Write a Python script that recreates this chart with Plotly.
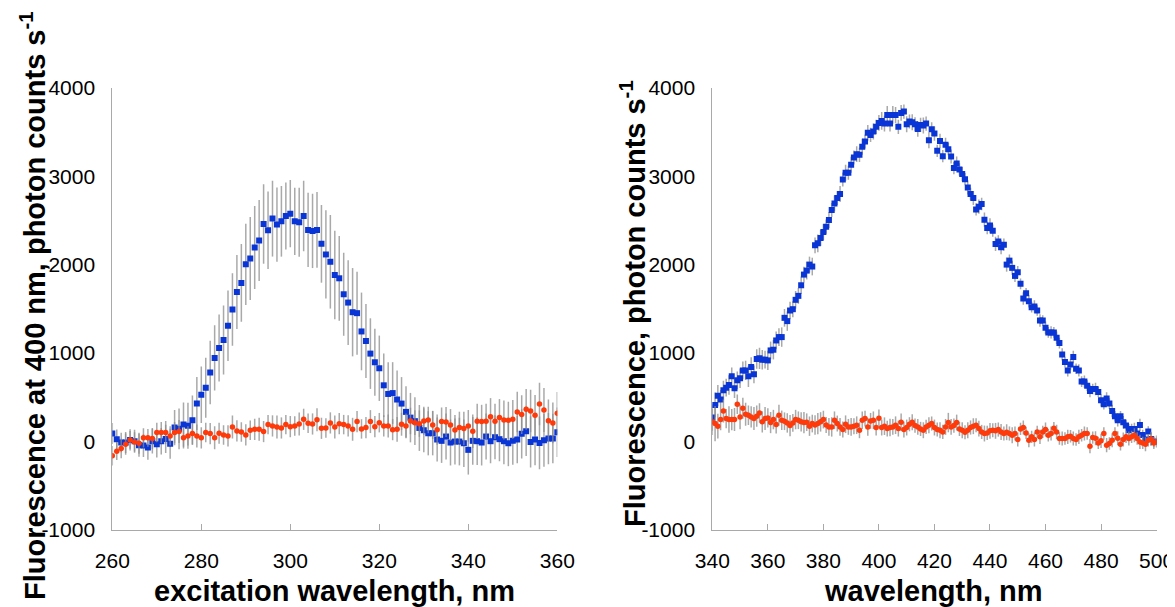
import plotly.graph_objects as go

# ---------------- data ----------------
exc_wavelength = list(range(260, 361))
exc_blue = [87, 23, -15, -15, 15, 0, -45, -50, -70, 0,
            -35, 0, 25, -30, 154, 140, 188, 175, 237, 428,
            526, 605, 778, 943, 1056, 1146, 1307, 1491, 1690, 1792,
            2003, 2070, 2194, 2273, 2460, 2389, 2521, 2453, 2490, 2550,
            2577, 2490, 2479, 2550, 2393, 2381, 2393, 2235, 2115, 2032,
            1882, 1845, 1664, 1570, 1461, 1450, 1243, 1135, 992, 894,
            826, 633, 535, 545, 472, 426, 332, 267, 227, 150,
            124, 90, 90, 19, 4, 53, -15, -4, -4, -23,
            -98, 4, 0, -15, 53, 0, 45, 23, 0, -23,
            4, 19, 83, 113, -8, 19, -19, 11, 30, 30,
            101]
exc_blue_err = [120, 110, 110, 120, 120, 130, 130, 130, 140, 140,
                150, 150, 160, 170, 200, 230, 250, 260, 280, 300,
                320, 340, 360, 370, 380, 390, 400, 410, 420, 440,
                460, 470, 470, 460, 450, 440, 430, 420, 400, 380,
                380, 380, 390, 400, 420, 420, 430, 440, 500, 530,
                500, 480, 470, 480, 500, 470, 440, 420, 400, 380,
                370, 360, 360, 350, 330, 300, 290, 280, 270, 260,
                250, 250, 250, 250, 250, 260, 260, 260, 270, 270,
                280, 270, 270, 260, 260, 250, 250, 250, 260, 260,
                270, 270, 280, 280, 290, 290, 300, 300, 290, 280,
                280]
exc_red = [-165, -113, -83, -34, 15, -8, -23, 38, 38, 30,
           98, 98, 98, 60, 98, 109, 38, 60, 86, 60,
           38, 98, 86, 38, 90, 71, 60, 161, 116, 105,
           71, 124, 135, 135, 109, 188, 173, 161, 150, 188,
           165, 173, 195, 248, 203, 195, 244, 146, 150, 207,
           161, 199, 188, 173, 135, 222, 139, 154, 222, 165,
           210, 173, 173, 131, 135, 192, 173, 229, 210, 199,
           229, 240, 184, 131, 222, 218, 184, 128, 154, 143,
           173, 113, 225, 222, 225, 278, 225, 267, 240, 237,
           248, 331, 301, 361, 342, 293, 421, 353, 233, 207,
           316]
exc_red_err = [110, 100, 110, 120, 100, 110, 120, 110, 100, 120,
               110, 120, 130, 110, 120, 130, 120, 110, 120, 130,
               120, 110, 120, 130, 120, 110, 120, 130, 120, 110,
               120, 110, 120, 130, 120, 110, 120, 130, 120, 110,
               120, 110, 130, 120, 110, 120, 130, 120, 110, 120,
               130, 120, 110, 120, 130, 120, 110, 120, 130, 120,
               110, 120, 130, 120, 140, 130, 140, 150, 140, 150,
               160, 150, 160, 170, 160, 170, 180, 170, 180, 190,
               180, 190, 200, 190, 200, 210, 200, 210, 220, 210,
               220, 230, 220, 230, 240, 230, 240, 250, 240, 230,
               240]

em_wavelength = list(range(340, 501))
em_blue = [267, 411, 516, 471, 576, 606, 637, 735, 599, 689,
           712, 802, 802, 735, 840, 757, 930, 938, 923, 923,
           915, 1028, 1036, 1141, 1179, 1179, 1397, 1360, 1480, 1495,
           1601, 1646, 1766, 1887, 1932, 2000, 1978, 2218, 2241, 2301,
           2369, 2430, 2505, 2618, 2693, 2754, 2799, 2964, 3040, 3040,
           3130, 3213, 3251, 3243, 3334, 3394, 3492, 3469, 3507, 3560,
           3605, 3627, 3597, 3695, 3597, 3695, 3695, 3560, 3718, 3733,
           3590, 3620, 3612, 3590, 3537, 3582, 3575, 3597, 3409, 3533,
           3484, 3288, 3401, 3228, 3356, 3307, 3224, 3093, 3145, 3077,
           3025, 2968, 2874, 2799, 2754, 2625, 2656, 2686, 2509, 2415,
           2444, 2384, 2234, 2263, 2196, 2226, 2000, 2045, 1963, 1872,
           1913, 1782, 1616, 1676, 1585, 1518, 1526, 1480, 1367, 1367,
           1285, 1232, 1232, 1232, 1172, 1111, 983, 896, 802, 870,
           953, 821, 802, 675, 675, 629, 568, 591, 591, 557,
           463, 418, 483, 426, 342, 283, 237, 283, 215, 177,
           124, 139, 139, 87, 184, 71, 19, 110, 26, -8,
           -4]
em_blue_err = [150, 140, 120, 110, 110, 100, 110, 100, 110, 100,
               110, 100, 110, 120, 110, 100, 110, 120, 110, 100,
               110, 100, 110, 100, 100, 110, 100, 110, 100, 90,
               100, 90, 100, 90, 100, 90, 100, 90, 100, 90,
               90, 80, 90, 80, 90, 80, 90, 80, 90, 80,
               90, 80, 90, 80, 90, 80, 90, 80, 90, 80,
               90, 100, 90, 100, 90, 100, 90, 80, 90, 80,
               90, 80, 90, 80, 90, 80, 90, 80, 90, 80,
               80, 70, 80, 70, 80, 70, 80, 70, 80, 70,
               80, 70, 80, 70, 80, 70, 80, 70, 80, 70,
               80, 70, 80, 70, 80, 70, 80, 70, 80, 70,
               70, 60, 70, 60, 70, 60, 70, 60, 70, 60,
               70, 60, 70, 60, 70, 60, 70, 60, 70, 60,
               70, 60, 70, 60, 70, 60, 70, 60, 70, 60,
               70, 60, 70, 60, 70, 60, 70, 60, 70, 60,
               70, 60, 70, 80, 70, 60, 70, 60, 70, 60,
               60]
em_red = [219, 200, 170, 245, 343, 256, 245, 245, 245, 418,
          275, 373, 305, 294, 275, 256, 283, 320, 219, 256,
          264, 211, 245, 188, 294, 237, 226, 207, 177, 207,
          245, 237, 219, 211, 215, 170, 200, 184, 200, 219,
          245, 184, 162, 162, 237, 200, 162, 132, 192, 162,
          162, 170, 181, 124, 237, 256, 162, 230, 237, 155,
          260, 155, 170, 143, 155, 162, 181, 143, 215, 132,
          155, 192, 215, 177, 162, 139, 124, 162, 181,
          200, 155, 132, 124, 105, 162, 211, 162, 177, 211,
          139, 124, 102, 124, 155, 170, 181, 143, 105, 87,
          94, 117, 124, 117, 132, 105, 87, 102, 87, 68,
          87, 19, 139, 155, 94, 11, 49, 19, 105, 49,
          105, 132, 68, 87, 147, 105, 30, 30, 30, 49,
          56, 30, 19, 49, 68, 87, 87, -56, 41, 34,
          -19, 4, 87, -45, -26, 11, 87, 34, -34, 19,
          49, 30, 49, 68, 30, -8, -19, -34, 11, 26,
          -19, -4]
em_red_err = [150, 200, 140, 120, 130, 110, 150, 120, 130, 110,
              140, 120, 130, 110, 120, 130, 120, 110, 120, 130,
              110, 120, 110, 100, 120, 110, 100, 110, 120, 100,
              110, 100, 110, 120, 100, 110, 100, 110, 120, 110,
              100, 90, 100, 110, 100, 90, 100, 90, 100, 90,
              100, 90, 100, 90, 100, 90, 100, 90, 100, 90,
              100, 90, 100, 90, 100, 90, 100, 90, 100, 90,
              90, 80, 90, 80, 90, 80, 90, 80, 90, 80,
              90, 80, 90, 80, 90, 110, 90, 80, 90, 80,
              90, 80, 90, 80, 90, 80, 90, 80, 90, 80,
              90, 80, 90, 80, 90, 80, 90, 80, 90, 80,
              80, 70, 80, 70, 80, 70, 80, 70, 80, 70,
              80, 70, 80, 70, 80, 70, 80, 70, 80, 70,
              80, 70, 80, 70, 80, 70, 80, 70, 80, 70,
              80, 70, 80, 70, 80, 70, 80, 70, 80, 70,
              80, 70, 80, 70, 80, 70, 80, 70, 80, 70,
              70]

y_tick_values = [-1000, 0, 1000, 2000, 3000, 4000]
y_tick_labels = ["-1000", "0", "1000", "2000", "3000", "4000"]

left_ytitle = "Fluorescence at 400 nm, photon counts s<sup>-1</sup>"
right_ytitle = "Fluorescence, photon counts s<sup>-1</sup>"
left_xtitle = "excitation wavelength, nm"
right_xtitle = "wavelength, nm"

# ---------------- style ----------------
BLUE = "#0a35d6"
RED = "#ff3a0a"
ERR = "rgba(140,140,140,0.75)"
AXIS = "#a9a9a9"
FONT = "Liberation Sans, Arial, sans-serif"

# the page body has an 8px margin; the figure is sized to fill the window exactly
OFF = 8
W, H = 1175 - OFF, 607 - OFF


def px(x):
    """window x pixel -> paper fraction"""
    return (x - OFF) / W


def py(y):
    """window y pixel (from top) -> paper fraction"""
    return (H - (y - OFF)) / H


def err(vals):
    return dict(type="data", array=vals, visible=True, color=ERR, thickness=1.5, width=0)


fig = go.Figure()
fig.add_trace(go.Scatter(x=exc_wavelength, y=exc_blue, mode="markers", error_y=err(exc_blue_err),
                         marker=dict(symbol="square", size=6, color=BLUE), xaxis="x", yaxis="y"))
fig.add_trace(go.Scatter(x=exc_wavelength, y=exc_red, mode="markers", error_y=err(exc_red_err),
                         marker=dict(symbol="circle", size=5.5, color=RED), xaxis="x", yaxis="y"))
fig.add_trace(go.Scatter(x=em_wavelength, y=em_blue, mode="markers", error_y=err(em_blue_err),
                         marker=dict(symbol="square", size=6, color=BLUE), xaxis="x2", yaxis="y2"))
fig.add_trace(go.Scatter(x=em_wavelength, y=em_red, mode="markers", error_y=err(em_red_err),
                         marker=dict(symbol="circle", size=5.5, color=RED), xaxis="x2", yaxis="y2"))

ydom = [py(529.5), py(88)]

xcommon = dict(showline=True, linecolor=AXIS, linewidth=1, showgrid=False, zeroline=False,
               ticks="inside", ticklen=6, tickcolor=AXIS, tickwidth=1, dtick=20, automargin=False,
               tickfont=dict(family=FONT, size=21, color="black"), ticklabelstandoff=12)
ycommon = dict(showline=True, linecolor=AXIS, linewidth=1, showgrid=False, zeroline=False,
               ticks="", range=[-1000, 4000], tickvals=y_tick_values, ticktext=y_tick_labels,
               tickfont=dict(family=FONT, size=21, color="black"), ticklabelstandoff=12,
               domain=ydom, automargin=False)

fig.update_layout(
    width=W, height=H,
    margin=dict(l=0, r=0, t=0, b=0),
    paper_bgcolor="white", plot_bgcolor="white",
    showlegend=False,
    xaxis=dict(xcommon, range=[260, 360], domain=[px(112.3), px(557.3)], anchor="y"),
    yaxis=dict(ycommon, anchor="x"),
    xaxis2=dict(xcommon, range=[340, 500], domain=[px(712.3), px(1156.6)], anchor="y2"),
    yaxis2=dict(ycommon, anchor="x2"),
)

tfont = dict(family=FONT, size=29, color="black", weight="bold")
fig.add_annotation(text=left_ytitle, textangle=-90, x=px(33), y=py(306), xref="paper", yref="paper",
                   xanchor="center", yanchor="middle", showarrow=False, font=tfont)
fig.add_annotation(text=right_ytitle, textangle=-90, x=px(633), y=py(304), xref="paper", yref="paper",
                   xanchor="center", yanchor="middle", showarrow=False, font=tfont)
fig.add_annotation(text=left_xtitle, x=px(334), y=py(591), xref="paper", yref="paper",
                   xanchor="center", yanchor="middle", showarrow=False, font=tfont)
fig.add_annotation(text=right_xtitle, x=px(933), y=py(591), xref="paper", yref="paper",
                   xanchor="center", yanchor="middle", showarrow=False, font=tfont)

fig.write_html("out.html")
